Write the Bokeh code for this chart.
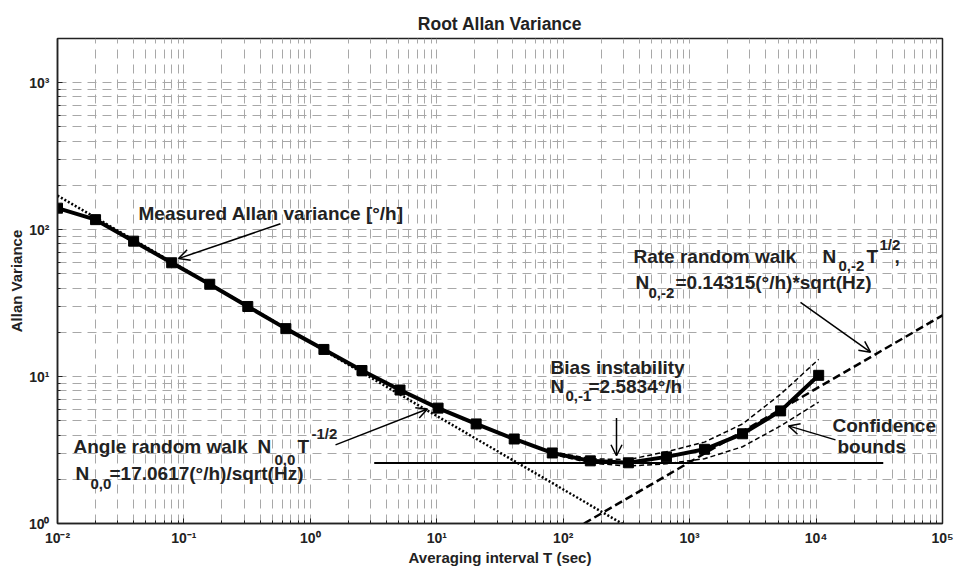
import math
from bokeh.plotting import figure
from bokeh.models import (FixedTicker, Label, Arrow, OpenHead, Range1d,
                          CustomJSTickFormatter)
from bokeh.embed import file_html
from bokeh.resources import INLINE

# ---------------- data ----------------
tau = [0.01, 0.02, 0.04, 0.08, 0.16, 0.32, 0.64, 1.28, 2.56, 5.12, 10.24,
       20.48, 40.96, 81.92, 163.84, 327.68, 655.36, 1310.72, 2621.44,
       5242.88, 10485.76]
adev = [140, 117, 83.5, 59.5, 42.5, 30.0, 21.2, 15.3, 11.0, 8.1, 6.1,
        4.76, 3.76, 3.02, 2.67, 2.59, 2.84, 3.2, 4.08, 5.84, 10.2]

ci_tau = [81.92, 163.84, 327.68, 655.36, 1310.72, 2621.44, 5242.88, 10485.76]
ci_upper = [3.08, 2.76, 2.72, 3.08, 3.58, 4.76, 7.6, 13.1]
ci_lower = [2.96, 2.58, 2.46, 2.55, 2.76, 3.33, 4.62, 6.7]

arw_tau = [0.01, 300]          # angle random walk fit (slope -1/2)
arw_dev = [170.6, 0.985]
rrw_tau = [146, 100000]        # rate random walk fit (slope +1/2)
rrw_dev = [1.0, 26.1]
bias_tau = [3.2, 34000]        # bias instability floor
bias_dev = [2.5834, 2.5834]

x_major = [0.01, 0.1, 1, 10, 100, 1000, 10000, 100000]
y_major = [1, 10, 100, 1000]
x_minor = [m * d for d in [0.01, 0.1, 1, 10, 100, 1000, 10000] for m in range(2, 10)]
y_minor = [m * d for d in [1, 10, 100, 1000] for m in range(2, 10)]

# ---------------- figure ----------------
FONT = "Liberation Sans"
p = figure(width=955, height=568, x_axis_type="log", y_axis_type="log",
           x_range=Range1d(1e-2, 1e5), y_range=Range1d(1, 2000),
           output_backend="svg", toolbar_location=None,
           min_border_left=57, min_border_right=13, min_border_top=38,
           min_border_bottom=43, title="Root Allan Variance")
p.background_fill_color = "white"
p.border_fill_color = "white"
p.outline_line_color = "#222222"
p.outline_line_width = 1.5

p.title.align = "center"
p.title.text_font = FONT
p.title.text_font_size = "17.5px"
p.title.text_font_style = "bold"
p.title.text_color = "#222222"

fmt = CustomJSTickFormatter(code="""
const e = Math.round(Math.log10(tick));
const sup = {'-':'\u207b','0':'\u2070','1':'\u00b9','2':'\u00b2','3':'\u00b3',
             '4':'\u2074','5':'\u2075','6':'\u2076','7':'\u2077','8':'\u2078','9':'\u2079'};
return '10' + String(e).split('').map(c => sup[c]).join('');
""")

p.xaxis.ticker = FixedTicker(ticks=x_major, minor_ticks=x_minor)
p.yaxis.ticker = FixedTicker(ticks=y_major, minor_ticks=y_minor)
for ax in (p.xaxis, p.yaxis):
    ax.formatter = fmt
    ax.major_label_text_font = FONT
    ax.major_label_text_font_size = "14px"
    ax.major_label_text_font_style = "bold"
    ax.major_label_text_color = "#222222"
    ax.axis_label_text_font = FONT
    ax.axis_label_text_font_size = "15px"
    ax.axis_label_text_font_style = "bold"
    ax.axis_label_text_color = "#222222"
    ax.axis_line_color = "#222222"
    ax.axis_line_width = 1.5
    ax.major_tick_in = 5
    ax.major_tick_out = 0
    ax.minor_tick_in = 3
    ax.minor_tick_out = 0
    ax.major_tick_line_color = "#222222"
    ax.minor_tick_line_color = "#222222"

p.xaxis.axis_label = "Averaging interval T (sec)"
p.yaxis.axis_label = "Allan Variance"
p.xaxis.major_label_standoff = 6
p.xaxis.axis_label_standoff = 0
p.yaxis.major_label_standoff = 8
p.yaxis.axis_label_standoff = 1

for g in (p.xgrid, p.ygrid):
    g.grid_line_color = "#a8a8a8"
    g.grid_line_dash = "9 6"
    g.grid_line_width = 1
    g.minor_grid_line_color = "#a8a8a8"
    g.minor_grid_line_dash = "9 6"
    g.minor_grid_line_width = 1

# ---------------- lines ----------------
p.line(bias_tau, bias_dev, line_color="black", line_width=2)
p.line(arw_tau, arw_dev, line_color="black", line_width=2.5, line_dash="2 2")
p.line(rrw_tau, rrw_dev, line_color="black", line_width=2.5, line_dash="8 4")
p.line(ci_tau, ci_upper, line_color="black", line_width=1.5, line_dash="5 3")
p.line(ci_tau, ci_lower, line_color="black", line_width=1.5, line_dash="5 3")
p.line(tau, adev, line_color="black", line_width=4)
p.scatter(tau, adev, marker="square", size=10, fill_color="black",
          line_color="black")

# ---------------- annotations ----------------
# frame geometry in page pixels (for placing text / arrow tails)
FX0, FX1, FY0, FY1 = 57.0, 942.0, 38.0, 525.0
LX0, LX1, LY0, LY1 = -2.0, 5.0, 0.0, math.log10(2000)


def P(px, py):
    x = 10 ** (LX0 + (px - FX0) / (FX1 - FX0) * (LX1 - LX0))
    y = 10 ** (LY0 + (FY1 - py) / (FY1 - FY0) * (LY1 - LY0))
    return x, y


def txt(px, py, s, size="19px"):
    x, y = P(px, py)
    p.add_layout(Label(x=x, y=y, text=s, text_font=FONT, text_font_size=size,
                       text_font_style="bold", text_color="#222222",
                       text_baseline="alphabetic", text_align="left"))


def arrow(px0, py0, px1, py1):
    x0, y0 = P(px0, py0)
    x1, y1 = P(px1, py1)
    p.add_layout(Arrow(x_start=x0, y_start=y0, x_end=x1, y_end=y1,
                       line_width=1.5, line_color="black",
                       end=OpenHead(size=11, line_width=1.5, line_color="black")))


SUB = "15px"
txt(138, 214, "Measured Allan variance [°/h]")

txt(73, 448, "Angle random walk")
txt(257, 448, "N")
txt(274, 461, "0,0", SUB)
txt(297, 448, "T")
txt(311, 435, "-1/2", SUB)
txt(75, 475, "N")
txt(90, 485, "0,0", SUB)
txt(109, 475, "=17.0617(°/h)/sqrt(Hz)")

txt(550, 368, "Bias instability")
txt(550, 387, "N")
txt(565, 397, "0,-1", SUB)
txt(588, 387, "=2.5834°/h")

txt(633, 257, "Rate random walk")
txt(822, 257, "N")
txt(838, 266, "0,-2", SUB)
txt(866, 257, "T")
txt(879, 245, "1/2", SUB)
txt(894, 257, ",")
txt(635, 283, "N")
txt(648, 294, "0,-2", SUB)
txt(675, 283, "=0.14315(°/h)*sqrt(Hz)")

txt(832, 427, "Confidence")
txt(837, 448, "bounds")

arrow(280, 224, 178, 259)
arrow(335, 446, 427, 410)
arrow(616, 419, 616, 457)
arrow(800, 303, 870, 353)
arrow(835, 441, 788, 427)

open("out.html", "w").write(file_html(p, INLINE))
